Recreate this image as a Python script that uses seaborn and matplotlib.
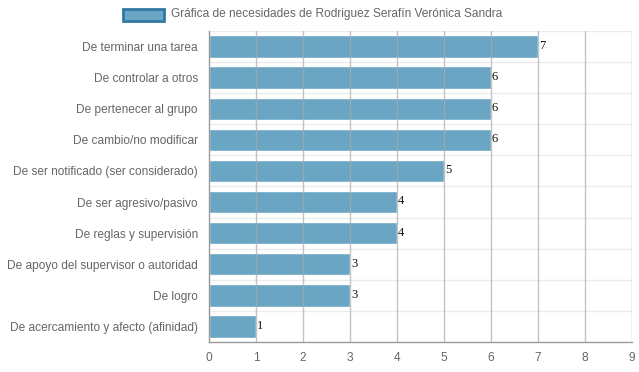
import matplotlib
matplotlib.use("Agg")
import matplotlib.pyplot as plt
import seaborn as sns
import pandas as pd
from matplotlib.patches import Rectangle

categories = [
    "De terminar una tarea",
    "De controlar a otros",
    "De pertenecer al grupo",
    "De cambio/no modificar",
    "De ser notificado (ser considerado)",
    "De ser agresivo/pasivo",
    "De reglas y supervisión",
    "De apoyo del supervisor o autoridad",
    "De logro",
    "De acercamiento y afecto (afinidad)",
]
values = [7, 6, 6, 6, 5, 4, 4, 3, 3, 1]
x_ticks = [0, 1, 2, 3, 4, 5, 6, 7, 8, 9]
legend_label = "Gráfica de necesidades de Rodriguez Serafín Verónica Sandra"

df = pd.DataFrame({"cat": categories, "val": values})

sns.set_theme(style="white")
plt.rcParams["font.family"] = ["Liberation Sans", "DejaVu Sans"]

fig = plt.figure(figsize=(6.39, 3.72), dpi=100)
ax = fig.add_axes([209 / 639, 1 - 342 / 372, (632 - 209) / 639, (342 - 31) / 372])

bar_color = "#6aa6c4"
sns.barplot(data=df, x="val", y="cat", orient="h", color=bar_color,
            saturation=1, width=0.72, ax=ax, zorder=2)

ax.set_xlim(0, 9)
ax.set_ylim(len(categories) - 0.5, -0.5)
ax.set_xticks(x_ticks)
ax.set_xticklabels([str(t) for t in x_ticks], color="#666666", fontsize=8.6)
ax.tick_params(axis="y", labelsize=8.6, labelcolor="#666666", length=0, pad=8)
ax.tick_params(axis="x", length=0, pad=7)
ax.set_xlabel("")
ax.set_ylabel("")

for t in x_ticks[1:]:
    ax.axvline(t, color="#aaaaaa", lw=1, alpha=0.7, zorder=3)
for i in range(len(categories)):
    ax.axhline(i - 0.5, color="#ececec", lw=1, zorder=1)

for sp in ["top", "right"]:
    ax.spines[sp].set_visible(False)
ax.spines["left"].set_color("#999999")
ax.spines["left"].set_linewidth(1)
ax.spines["bottom"].set_color("#999999")
ax.spines["bottom"].set_linewidth(1)

for i, v in enumerate(values):
    ax.text(v + 0.02, i - 0.02, str(v), ha="left", va="center", fontsize=9,
            family=["Liberation Serif", "DejaVu Serif"], color="#111111", zorder=4)

# legend
fig.patches.append(Rectangle((123 / 639, 1 - 21 / 372), 41 / 639, 12 / 372,
                             transform=fig.transFigure, facecolor=bar_color,
                             edgecolor="#2f7aa3", lw=2, figure=fig))
fig.text(171 / 639, 1 - 14.5 / 372, legend_label, ha="left", va="center",
         fontsize=8.6, color="#666666")

fig.savefig("out.png", dpi=100)
